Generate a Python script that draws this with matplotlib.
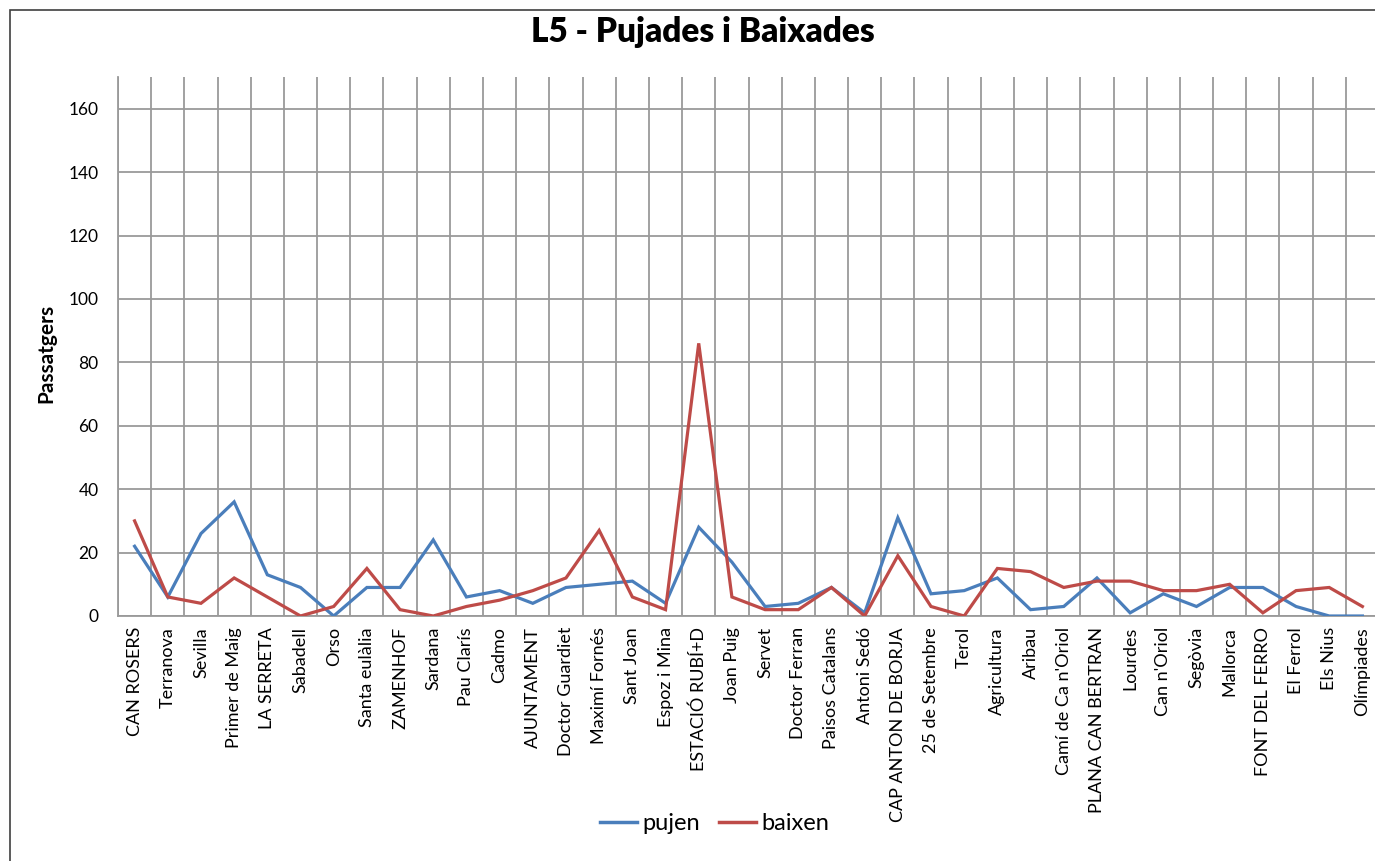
import matplotlib
matplotlib.use("Agg")
import matplotlib.pyplot as plt
from matplotlib.patches import Rectangle
from matplotlib.lines import Line2D
import numpy as np

plt.rcParams['font.family'] = ['Lato', 'DejaVu Sans']

stations = ["CAN ROSERS", "Terranova", "Sevilla", "Primer de Maig", "LA SERRETA",
            "Sabadell", "Orso", "Santa eulàlia", "ZAMENHOF", "Sardana", "Pau Clarís",
            "Cadmo", "AJUNTAMENT", "Doctor Guardiet", "Maximí Fornés", "Sant Joan",
            "Espoz i Mina", "ESTACIÓ RUBÍ+D", "Joan Puig", "Servet", "Doctor Ferran",
            "Paisos Catalans", "Antoni Sedó", "CAP ANTON DE BORJA", "25 de Setembre",
            "Terol", "Agricultura", "Aribau", "Camí de Ca n'Oriol", "PLANA CAN BERTRAN",
            "Lourdes", "Can n'Oriol", "Segòvia", "Mallorca", "FONT DEL FERRO",
            "El Ferrol", "Els Nius", "Olímpiades"]

pujen = [22, 6, 26, 36, 13, 9, 0, 9, 9, 24, 6, 8, 4, 9, 10, 11, 4, 28, 17, 3, 4,
         9, 1, 31, 7, 8, 12, 2, 3, 12, 1, 7, 3, 9, 9, 3, 0, 0]
baixen = [30, 6, 4, 12, 6, 0, 3, 15, 2, 0, 3, 5, 8, 12, 27, 6, 2, 86, 6, 2, 2,
          9, 0, 19, 3, 0, 15, 14, 9, 11, 11, 8, 8, 10, 1, 8, 9, 3]

yticks = [0, 20, 40, 60, 80, 100, 120, 140, 160]

W, H = 1375, 861
fig = plt.figure(figsize=(W / 100, H / 100), dpi=100)

# outer chart border
fig.patches.append(Rectangle((10 / W, -0.1), 1.2, 1 - 10 / H + 0.1,
                             transform=fig.transFigure, fill=False,
                             edgecolor='#404040', linewidth=1.2))

left, right = 118 / W, 1379 / W
bottom, top = 1 - 616 / H, 1 - 77 / H
ax = fig.add_axes([left, bottom, right - left, top - bottom])

x = np.arange(len(stations))
blue = '#4A7EBB'
red = '#BE4B48'
ax.plot(x, pujen, color=blue, lw=2.3, label='pujen', solid_joinstyle='miter', zorder=3)
ax.plot(x, baixen, color=red, lw=2.3, label='baixen', solid_joinstyle='miter', zorder=3)

ax.set_xlim(-0.5, len(stations) - 0.5)
ax.set_ylim(0, 170)
ax.set_yticks(yticks)
ax.set_xticks(x)
ax.set_xticklabels(stations, rotation=90, fontsize=13)
ax.set_xticks(np.arange(-0.5, len(stations), 1), minor=True)
ax.tick_params(axis='both', which='both', length=0)
ax.tick_params(axis='y', labelsize=12.5, pad=14)
ax.tick_params(axis='x', pad=8)

gridc = '#9a9a9a'
ax.grid(True, which='minor', axis='x', color=gridc, lw=1.3, zorder=1)
ax.grid(True, which='major', axis='y', color=gridc, lw=1.3, zorder=1)
ax.set_axisbelow(True)
for s in ['top', 'right']:
    ax.spines[s].set_visible(False)
for s in ['left', 'bottom']:
    ax.spines[s].set_color(gridc)
    ax.spines[s].set_linewidth(1.3)

fig.text(703 / W, 1 - 32 / H, "L5 - Pujades i Baixades", ha='center', va='center',
         fontsize=24, fontweight='heavy')
fig.text(46 / W, 1 - 353 / H, "Passatgers", ha='center', va='center',
         rotation=90, fontsize=15, fontweight='bold')

handles = [Line2D([], [], color=blue, lw=2.5), Line2D([], [], color=red, lw=2.5)]
fig.legend(handles, ['pujen', 'baixen'], loc='center', ncol=2,
           bbox_to_anchor=(715 / W, 1 - 824 / H), frameon=False, fontsize=17,
           handlelength=1.55, handletextpad=0.25, columnspacing=0.8)

fig.savefig("out.png", dpi=100)
